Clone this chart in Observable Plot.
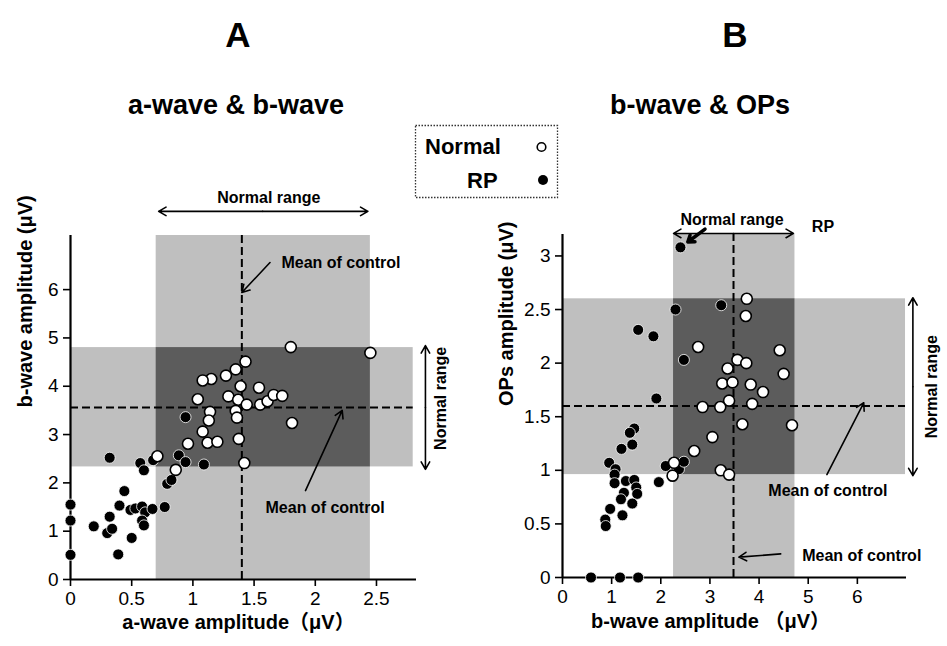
<!DOCTYPE html>
<html><head><meta charset="utf-8">
<script src="https://cdn.jsdelivr.net/npm/d3@7"></script>
<script src="https://cdn.jsdelivr.net/npm/@observablehq/plot@0.6"></script>
<style>
body{margin:0;background:#fff;}
#wrap{position:relative;width:947px;height:646px;overflow:hidden;font-family:"Liberation Sans",Arial,"Noto Sans CJK JP",sans-serif;}
#wrap svg{position:absolute;top:0;}
</style></head><body><div id="wrap"></div>
<script>
// ---- data ----
const normalA = [[1.80,4.81],[2.45,4.69],[1.43,4.51],[1.35,4.35],[1.27,4.22],[1.15,4.15],[1.08,4.12],[1.39,4.00],[1.54,3.97],[1.04,3.73],[1.29,3.79],[1.37,3.72],[1.44,3.62],[1.55,3.62],[1.61,3.69],[1.66,3.82],[1.73,3.80],[1.35,3.49],[1.14,3.47],[1.36,3.35],[1.13,3.29],[1.81,3.24],[1.08,3.06],[1.12,2.83],[1.20,2.85],[0.96,2.81],[1.375,2.91],[1.42,2.41],[0.86,2.27],[0.71,2.55]];
const rpA = [[0.32,2.52],[0.57,2.41],[0.60,2.26],[0.675,2.47],[0.885,2.57],[0.94,2.43],[1.09,2.38],[0.94,3.36],[0.79,1.98],[0.825,2.06],[0.44,1.83],[0.40,1.53],[0.49,1.44],[0.53,1.47],[0.585,1.51],[0.61,1.39],[0.67,1.46],[0.77,1.50],[0.32,1.30],[0.585,1.22],[0.60,1.12],[0.19,1.10],[0.30,0.96],[0.34,1.05],[0.50,0.86],[0.39,0.52],[0,1.55],[0,1.22],[0,0.51]];
const normalB = [[3.75,2.60],[3.73,2.44],[2.76,2.15],[4.42,2.12],[3.56,2.03],[3.74,2.00],[3.36,1.95],[4.50,1.90],[3.25,1.81],[3.46,1.82],[3.83,1.80],[4.08,1.73],[3.39,1.65],[3.86,1.62],[3.21,1.59],[2.85,1.59],[3.66,1.43],[4.67,1.42],[3.05,1.31],[2.68,1.18],[2.27,1.07],[2.24,0.95],[3.22,1.00],[3.39,0.96]];
const rpB = [[2.40,3.08],[2.30,2.50],[3.23,2.54],[1.54,2.31],[1.85,2.25],[2.47,2.03],[1.91,1.67],[1.46,1.39],[1.37,1.35],[1.42,1.24],[1.20,1.20],[0.95,1.07],[1.08,1.01],[1.06,0.96],[2.10,1.04],[2.37,1.01],[2.47,1.08],[1.06,0.88],[1.29,0.90],[1.46,0.91],[1.50,0.84],[1.96,0.89],[1.25,0.79],[1.52,0.78],[1.19,0.73],[1.42,0.69],[0.97,0.64],[1.22,0.58],[0.87,0.54],[0.88,0.48],[0.58,0],[1.17,0],[1.54,0]];

// normal ranges and control means
const rangeA = {x:[0.70,2.45], y:[2.33,4.80], xMean:1.40, yMean:3.56};
const rangeB = {x:[2.26,4.73], y:[0.96,2.60], xMean:3.48, yMean:1.60};

// tick labels
const xTicksA = [0,0.5,1,1.5,2,2.5];
const yTicksA = [0,1,2,3,4,5,6];
const xTicksB = [0,1,2,3,4,5,6];
const yTicksB = [0,0.5,1,1.5,2,2.5,3];

// text labels
const titles = ["A","B"];
const subtitles = ["a-wave & b-wave","b-wave & OPs"];
const xLabels = ["a-wave amplitude（μV）","b-wave amplitude （μV）"];
const yLabels = ["b-wave amplitude (μV)","OPs amplitude (μV)"];
const legendLabels = ["Normal","RP"];

// annotations (data units)
const notesA = [
  {t:"Normal range", x:1.62, y:7.89},
  {t:"Mean of control", x:2.21, y:6.56},
  {t:"Mean of control", x:2.08, y:1.48}
];
const vNotesA = [{t:"Normal range", x:3.03, y:3.75}];
const arrowsA = [
  {x1:1.57,y1:7.62,x2:0.72,y2:7.62},{x1:1.57,y1:7.62,x2:2.43,y2:7.62},
  {x1:2.90,y1:3.56,x2:2.90,y2:4.84},{x1:2.90,y1:3.56,x2:2.90,y2:2.28},
  {x1:1.63,y1:6.56,x2:1.40,y2:5.94},
  {x1:1.92,y1:1.84,x2:2.22,y2:3.50}
];
const notesB = [
  {t:"Normal range", x:3.45, y:3.34},
  {t:"RP", x:5.30, y:3.27},
  {t:"Mean of control", x:5.40, y:0.81},
  {t:"Mean of control", x:6.09, y:0.20}
];
const vNotesB = [{t:"Normal range", x:7.52, y:1.78}];
const arrowsB = [
  {x1:3.48,y1:3.21,x2:2.26,y2:3.21},{x1:3.48,y1:3.21,x2:4.70,y2:3.21},
  {x1:7.13,y1:1.78,x2:7.13,y2:2.61},{x1:7.13,y1:1.78,x2:7.13,y2:0.95},
  {x1:5.38,y1:0.96,x2:6.13,y2:1.63},
  {x1:4.44,y1:0.22,x2:3.59,y2:0.19}
];
const pointerB = [{x1:2.90,y1:3.25,x2:2.55,y2:3.13}];

const LIGHT = "#bfbfbf", DARK = "#5c5c5c";
const FONT = '"Liberation Sans", Arial, "Noto Sans CJK JP", sans-serif';
const fmt = d => String(d);

function panel(c) {
  const r = c.range;
  const [x0, xMax] = c.xDomain, [y0, yMax] = c.yDomain;
  return Plot.plot({
    width: c.width, height: 646,
    marginLeft: c.ml, marginRight: c.mr, marginTop: c.mt, marginBottom: c.mb,
    x: {domain: c.xDomain}, y: {domain: c.yDomain},
    style: {fontFamily: FONT, background: "transparent", overflow: "visible", color: "black"},
    marks: [
      Plot.rect([r], {x1: d => d.x[0], x2: d => d.x[1], y1: 0, y2: c.bandTop, fill: LIGHT}),
      Plot.rect([r], {x1: 0, x2: c.bandRight, y1: d => d.y[0], y2: d => d.y[1], fill: LIGHT}),
      Plot.rect([r], {x1: d => d.x[0], x2: d => d.x[1], y1: d => d.y[0], y2: d => d.y[1], fill: DARK}),
      Plot.ruleX([r.xMean], {y1: 0, y2: c.bandTop, stroke: "black", strokeWidth: 2, strokeDasharray: "8,4"}),
      Plot.ruleY([r.yMean], {x1: 0, x2: c.bandRight, stroke: "black", strokeWidth: 2, strokeDasharray: "8,4"}),
      Plot.ruleY([0], {x1: 0, x2: xMax, stroke: "black", strokeWidth: 2.2}),
      Plot.ruleX([0], {y1: 0, y2: yMax, stroke: "black", strokeWidth: 2.2}),
      Plot.axisX({ticks: c.xTicks, tickFormat: fmt, tickSize: 7, tickPadding: 5, strokeWidth: 1.6, fontSize: 19, label: null}),
      Plot.axisY({ticks: c.yTicks, tickFormat: fmt, tickSize: 7, tickPadding: 5, strokeWidth: 1.6, fontSize: 19, label: null}),
      Plot.text([c.xLabel], {text: d => d, frameAnchor: "bottom", dx: c.xlDx, dy: c.xlDy, fontSize: 20, fontWeight: "bold"}),
      Plot.text([c.yLabel], {text: d => d, frameAnchor: "left", dx: c.ylDx, dy: 0, rotate: -90, fontSize: 20, fontWeight: "bold"}),
      Plot.text(c.notes, {x: "x", y: "y", text: "t", fontSize: 16, fontWeight: "bold"}),
      Plot.text(c.vNotes, {x: "x", y: "y", text: "t", rotate: -90, fontSize: 16, fontWeight: "bold"}),
      Plot.arrow(c.arrows, {x1: "x1", y1: "y1", x2: "x2", y2: "y2", stroke: "black", strokeWidth: 1.6, headLength: 8}),
      ...(c.pointer ? [Plot.arrow(c.pointer, {x1: "x1", y1: "y1", x2: "x2", y2: "y2", stroke: "black", strokeWidth: 3.5, headLength: 10, headAngle: 70})] : []),
      Plot.dot(c.rp, {x: d => d[0], y: d => d[1], r: 5.5, fill: "black", stroke: "white", strokeWidth: 0.8}),
      Plot.dot(c.normal, {x: d => d[0], y: d => d[1], r: 5.5, fill: "white", stroke: "black", strokeWidth: 1.6})
    ]
  });
}

const wrap = document.getElementById("wrap");
const A = panel({width: 473, ml: 70, mr: 57, mt: 235, mb: 67, xDomain: [0, 2.827], yDomain: [0, 7.12],
  bandTop: 7.12, bandRight: 2.80, range: rangeA, xTicks: xTicksA, yTicks: yTicksA,
  xLabel: xLabels[0], yLabel: yLabels[0], xlDx: -5, xlDy: 49, ylDx: -45,
  notes: notesA, vNotes: vNotesA, arrows: arrowsA, normal: normalA, rp: rpA});
A.style.left = "0px";
wrap.appendChild(A);
const B = panel({width: 474, ml: 89, mr: 41, mt: 234, mb: 69, xDomain: [0, 7], yDomain: [0, 3.2],
  bandTop: 3.2, bandRight: 6.98, range: rangeB, xTicks: xTicksB, yTicks: yTicksB,
  xLabel: xLabels[1], yLabel: yLabels[1], xlDx: -24, xlDy: 50, ylDx: -56,
  notes: notesB, vNotes: vNotesB, arrows: arrowsB, pointer: pointerB, normal: normalB, rp: rpB});
B.style.left = "473px";
wrap.appendChild(B);

// overlay: panel letters, titles, legend
const ov = d3.select(wrap).append("svg").attr("width", 947).attr("height", 646)
  .style("left", "0px").style("pointer-events", "none").style("font-family", FONT);
const cx = [238, 735], sx = [236, 700];
titles.forEach((t, i) => ov.append("text").attr("x", cx[i]).attr("y", 47).attr("text-anchor", "middle")
  .attr("font-size", 35).attr("font-weight", "bold").text(t));
subtitles.forEach((t, i) => ov.append("text").attr("x", sx[i]).attr("y", 114).attr("text-anchor", "middle")
  .attr("font-size", 27).attr("font-weight", "bold").text(t));
ov.append("rect").attr("x", 415.5).attr("y", 125.5).attr("width", 142).attr("height", 72)
  .attr("fill", "white").attr("stroke", "#333").attr("stroke-width", 1.3).attr("stroke-dasharray", "1.5,1.5");
ov.append("text").attr("x", 425).attr("y", 154).attr("font-size", 22).attr("font-weight", "bold").text(legendLabels[0]);
ov.append("text").attr("x", 467).attr("y", 188).attr("font-size", 22).attr("font-weight", "bold").text(legendLabels[1]);
ov.append("circle").attr("cx", 541.5).attr("cy", 147).attr("r", 4.3).attr("fill", "white").attr("stroke", "black").attr("stroke-width", 1.6);
ov.append("circle").attr("cx", 543).attr("cy", 180).attr("r", 5).attr("fill", "black");
</script></body></html>
